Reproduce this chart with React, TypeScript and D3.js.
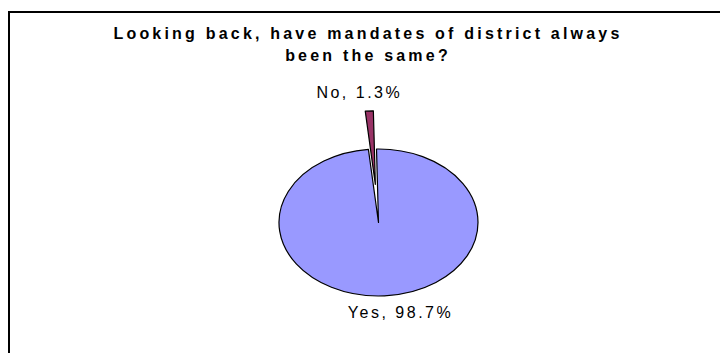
import React from "react";
import * as d3 from "d3";

const categories = ["Yes", "No"];
const values = [98.7, 1.3];
const colors = ["#9999FF", "#993366"];
const titleLines = ["Looking back, have mandates of district always", "been the same?"];

const W = 720;
const H = 353;
const cx = 378.5;
const cy = 222.5;
const rx = 99.5;
const ry = 73.5;
const k = ry / rx;
const startOffset = -0.02;
const explode = [0, 51.8];
// label placement relative to slice outer edge (dx, baseline gap)
const labelDx = [16, -10];
const labelGap = [22, 13];

export default function App() {
  const data = categories.map((c, i) => ({ c, v: values[i], i }));
  const pie = d3
    .pie<any>()
    .sort(null)
    .value((d: any) => d.v)
    .startAngle(startOffset)
    .endAngle(startOffset + 2 * Math.PI);
  const arcs = pie(data);
  const arc = d3.arc<any>().innerRadius(0).outerRadius(rx);

  return (
    <svg
      width={W}
      height={H}
      style={{ position: "absolute", left: 0, top: 0, background: "#fff" }}
    >
      <rect x={9} y={12} width={900} height={500} fill="#fff" stroke="#000" strokeWidth={2} />
      {titleLines.map((t, i) => (
        <text
          key={i}
          x={368}
          y={39 + i * 22}
          textAnchor="middle"
          fontFamily="'Liberation Sans', Arial, sans-serif"
          fontWeight="bold"
          fontSize={16}
          letterSpacing={3.2}
          fill="#000"
        >
          {t}
        </text>
      ))}
      {arcs.map((a: any, i: number) => {
        const mid = (a.startAngle + a.endAngle) / 2;
        const ox = explode[i] * Math.sin(mid);
        const oy = -explode[i] * Math.cos(mid);
        return (
          <g key={i} transform={`translate(${cx},${cy}) scale(1,${k}) translate(${ox},${oy})`}>
            <path
              d={arc(a) as string}
              fill={colors[i]}
              stroke="#000"
              strokeWidth={1.2}
              strokeLinejoin="round"
              vectorEffect="non-scaling-stroke"
            />
          </g>
        );
      })}
      {arcs.map((a: any, i: number) => {
        const mid = (a.startAngle + a.endAngle) / 2;
        const r = rx + explode[i];
        const px = cx + r * Math.sin(mid) + labelDx[i];
        const edgeY = cy - r * Math.cos(mid) * k;
        const up = Math.cos(mid) > 0;
        const y = up ? edgeY - labelGap[i] : edgeY + labelGap[i];
        return (
          <text
            key={i}
            x={px}
            y={y}
            textAnchor="middle"
            fontFamily="'Liberation Sans', Arial, sans-serif"
            fontSize={16}
            letterSpacing={2.5}
            fill="#000"
          >
            {`${a.data.c}, ${d3.format(".1f")(a.data.v)}%`}
          </text>
        );
      })}
    </svg>
  );
}
